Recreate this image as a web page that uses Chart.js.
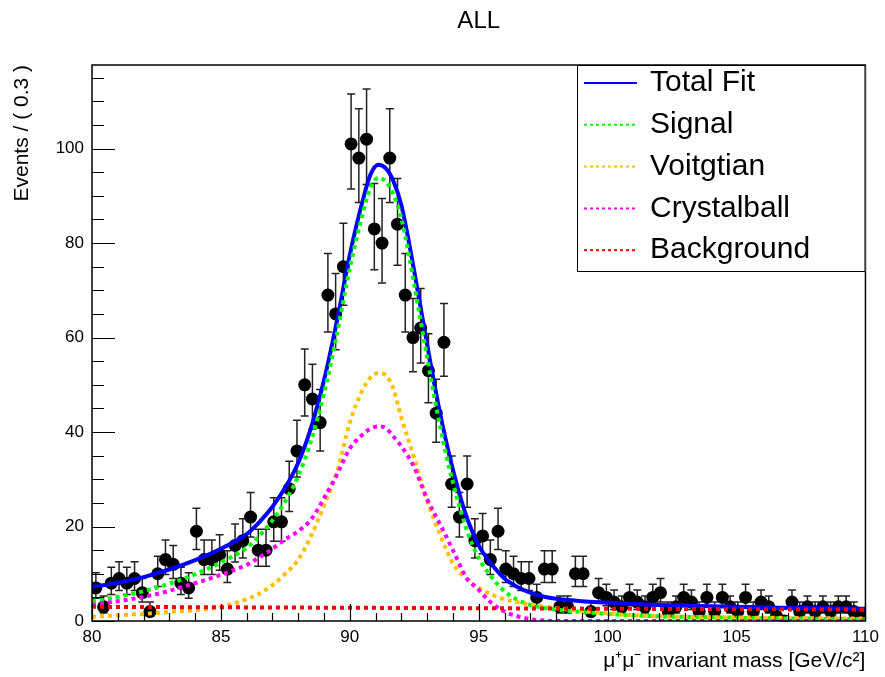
<!DOCTYPE html>
<html>
<head>
<meta charset="utf-8">
<script src="https://cdn.jsdelivr.net/npm/chart.js@4/dist/chart.umd.min.js"></script>
<style>
  html, body { margin: 0; padding: 0; background: #fff; }
</style>
</head>
<body>
<canvas id="grafico" width="885" height="677"></canvas>
<script>
// histogram: 100 bins of 0.3 GeV from 80 to 110
const titulo = 'ALL';
const binLo = 80;
const binW = 0.3;
const eventos = [
  7, 3, 8, 9, 8, 9, 6, 2, 10, 13,
  12, 8, 7, 19, 13, 13, 14, 11, 16, 17,
  22, 15, 15, 21, 21, 28, 36, 50, 47, 42,
  69, 65, 75, 101, 98, 102, 83, 80, 98, 84,
  69, 60, 62, 53, 44, 59, 29, 22, 29, 17,
  18, 13, 19, 11, 10, 9, 9, 5, 11, 11,
  3, 3, 10, 10, 2, 6, 5, 4, 3, 5,
  4, 3, 5, 6, 2, 3, 5, 4, 2, 5,
  2, 5, 3, 2, 5, 2, 4, 3, 1, 0,
  4, 2, 3, 2, 3, 2, 3, 3, 2, 1
];

// fit curves
const curvaX = [80, 81, 82, 83, 84, 85, 86, 86.5, 87, 87.5, 88, 88.5, 89, 89.5, 90, 90.5, 90.8, 91.1, 91.4, 91.7,
  92, 92.5, 93, 93.5, 94, 94.5, 95, 95.5, 96, 96.5, 97, 97.5, 98, 99, 100, 101, 102, 104, 106, 108, 110];
const totalFit = [7.2, 8.1, 9.3, 10.9, 12.9, 15.3, 18.4, 21, 24.2, 28.3, 33.5, 41, 51, 63.5, 77.5, 89, 94.5, 96.6, 95.8, 93,
  88, 74, 58.5, 44, 32, 22.5, 16, 12, 9, 7.2, 6, 5.2, 4.7, 4.2, 3.9, 3.6, 3.4, 3.1, 2.9, 2.7, 2.6];
const signal = [4.2, 5.1, 6.3, 7.9, 9.9, 12.4, 15.5, 18.1, 21.3, 25.4, 30.7, 38.2, 48.2, 60.7, 74.7, 86.2, 91.7, 93.8, 93, 90.2,
  85.2, 71.2, 55.7, 41.2, 29.3, 19.8, 13.3, 9.3, 6.3, 4.5, 3.4, 2.8, 2.4, 1.9, 1.5, 1.2, 1.0, 0.8, 0.6, 0.5, 0.4];
const voigtian = [0.9, 1.2, 1.5, 1.9, 2.3, 3.0, 4.6, 5.8, 7.6, 10, 13, 18, 24.5, 31.5, 42, 49, 51.5, 52.5, 52, 49,
  43, 34.5, 25.5, 18.3, 12.2, 9, 7, 5.6, 4.6, 4.0, 3.5, 3.1, 2.7, 2.1, 1.6, 1.2, 1.0, 0.8, 0.7, 0.6, 0.5];
const crystal = [3.4, 4.2, 5.1, 6.4, 8.0, 9.8, 11.9, 13.5, 15.3, 17.3, 19, 21.5, 26, 31, 36.5, 39.5, 40.7, 41.2, 40.8, 39,
  37, 32.5, 25.8, 20.5, 15, 9.4, 6.6, 3.8, 2.0, 1.0, 0.4, 0.1, 0, 0, 0, 0, 0, 0, 0, 0, 0];
const fundoX = [80, 110];
const fundo = [3.0, 2.4];

const legendas = ['Total Fit', 'Signal', 'Voitgtian', 'Crystalball', 'Background'];
const cores = ['#0000ff', '#00ff00', '#ffc000', '#ff00ff', '#ff0000'];

const centros = eventos.map((n, i) => binLo + binW * (i + 0.5));
const pontos = eventos.map((n, i) => ({ x: centros[i], y: n }));
const paraXY = (xs, ys) => xs.map((v, i) => ({ x: v, y: ys[i] }));

const fonte = 'Liberation Sans, Arial, sans-serif';

// error bars (approx. poisson) under the markers
const barrasErro = {
  id: 'barrasErro',
  beforeDatasetsDraw(chart) {
    const { ctx, scales: { x, y } } = chart;
    ctx.save();
    ctx.strokeStyle = '#222';
    ctx.lineWidth = 1.5;
    eventos.forEach((n, i) => {
      const s = Math.sqrt(n + 0.25);
      const px = x.getPixelForValue(centros[i]);
      const pTop = y.getPixelForValue(n + 0.5 + s);
      const pBot = y.getPixelForValue(n + 0.5 - s);
      ctx.beginPath();
      ctx.moveTo(px, pTop); ctx.lineTo(px, pBot);
      ctx.moveTo(px - 4, pTop); ctx.lineTo(px + 4, pTop);
      ctx.moveTo(px - 4, pBot); ctx.lineTo(px + 4, pBot);
      ctx.stroke();
    });
    ctx.restore();
  }
};

// ROOT style frame with inward ticks
const moldura = {
  id: 'moldura',
  afterDatasetsDraw(chart) {
    const { ctx, chartArea: a, scales: { x, y } } = chart;
    ctx.save();
    ctx.strokeStyle = '#000';
    ctx.lineWidth = 1.5;
    ctx.strokeRect(a.left, a.top, a.right - a.left, a.bottom - a.top);
    ctx.lineWidth = 1.2;
    ctx.beginPath();
    for (let v = 0; v <= 115; v += 5) {
      const py = Math.round(y.getPixelForValue(v)) + 0.5;
      const len = v % 20 === 0 ? 23 : 12;
      ctx.moveTo(a.left, py); ctx.lineTo(a.left + len, py);
    }
    for (let v = 80; v <= 110; v += 1) {
      const px = Math.round(x.getPixelForValue(v)) + 0.5;
      const len = v % 5 === 0 ? 17 : 8;
      ctx.moveTo(px, a.bottom); ctx.lineTo(px, a.bottom - len);
    }
    ctx.stroke();
    ctx.restore();
  },
  afterDraw(chart) {
    const { ctx, chartArea: a } = chart;
    ctx.save();
    // title
    ctx.fillStyle = '#000';
    ctx.font = '24px ' + fonte;
    ctx.textAlign = 'center';
    ctx.textBaseline = 'middle';
    ctx.fillText(titulo, (a.left + a.right) / 2, 21);

    // legend box
    const bx = 577, by = a.top, bw = a.right - 577, bh = 207;
    ctx.fillStyle = '#fff';
    ctx.fillRect(bx, by, bw, bh);
    ctx.strokeStyle = '#000';
    ctx.lineWidth = 1;
    ctx.strokeRect(bx + 0.5, by + 0.5, bw - 1, bh - 1);
    ctx.font = '30px ' + fonte;
    ctx.textAlign = 'left';
    legendas.forEach((txt, i) => {
      const ly = by + 18 + i * 41.8;
      ctx.strokeStyle = cores[i];
      ctx.lineWidth = 2;
      ctx.setLineDash(i === 0 ? [] : [3, 3]);
      ctx.beginPath();
      ctx.moveTo(bx + 7, ly); ctx.lineTo(bx + 60, ly);
      ctx.stroke();
      ctx.setLineDash([]);
      ctx.fillStyle = '#000';
      ctx.fillText(txt, bx + 73, ly);
    });
    ctx.restore();
  }
};

const curva = (label, xs, ys, cor, ordem, tracejado) => ({
  type: 'scatter',
  label: label,
  data: paraXY(xs, ys),
  showLine: true,
  borderColor: cor,
  backgroundColor: cor,
  borderWidth: 4,
  borderDash: tracejado ? [4, 4] : [],
  pointRadius: 0,
  cubicInterpolationMode: 'monotone',
  order: ordem
});

new Chart(document.getElementById('grafico'), {
  type: 'scatter',
  data: {
    datasets: [
      {
        label: 'data',
        data: pontos,
        pointRadius: 6.5,
        pointBackgroundColor: '#000',
        pointBorderWidth: 0,
        order: 6
      },
      curva(legendas[0], curvaX, totalFit, cores[0], 5, false),
      curva(legendas[1], curvaX, signal, cores[1], 4, true),
      curva(legendas[2], curvaX, voigtian, cores[2], 3, true),
      curva(legendas[3], curvaX, crystal, cores[3], 2, true),
      curva(legendas[4], fundoX, fundo, cores[4], 1, true)
    ]
  },
  options: {
    responsive: false,
    devicePixelRatio: 1,
    animation: false,
    events: [],
    layout: { padding: { top: 65, right: 18, left: 0, bottom: 0 } },
    plugins: {
      legend: { display: false },
      tooltip: { enabled: false },
      title: { display: false }
    },
    scales: {
      x: {
        type: 'linear',
        min: 80,
        max: 110,
        grid: { display: false, drawTicks: false },
        border: { display: false },
        ticks: { stepSize: 5, padding: 6, color: '#000', font: { family: fonte, size: 17 }, maxRotation: 0 },
        title: {
          display: true,
          text: 'μ⁺μ⁻ invariant mass [GeV/c²]',
          align: 'end',
          color: '#000',
          font: { family: fonte, size: 21 },
          padding: { top: 0, bottom: 3 }
        },
        afterFit: (s) => { s.height = 56; }
      },
      y: {
        type: 'linear',
        min: 0,
        max: 117.7,
        grid: { display: false, drawTicks: false },
        border: { display: false },
        ticks: { stepSize: 20, padding: 8, color: '#000', font: { family: fonte, size: 17 } },
        afterBuildTicks: (s) => { s.ticks = s.ticks.filter(t => t.value % 20 === 0); },
        title: {
          display: true,
          text: 'Events / ( 0.3 )',
          align: 'end',
          color: '#000',
          font: { family: fonte, size: 21 },
          padding: { top: 10, bottom: 0 }
        },
        afterFit: (s) => { s.width = 92; }
      }
    }
  },
  plugins: [barrasErro, moldura]
});
</script>
</body>
</html>
